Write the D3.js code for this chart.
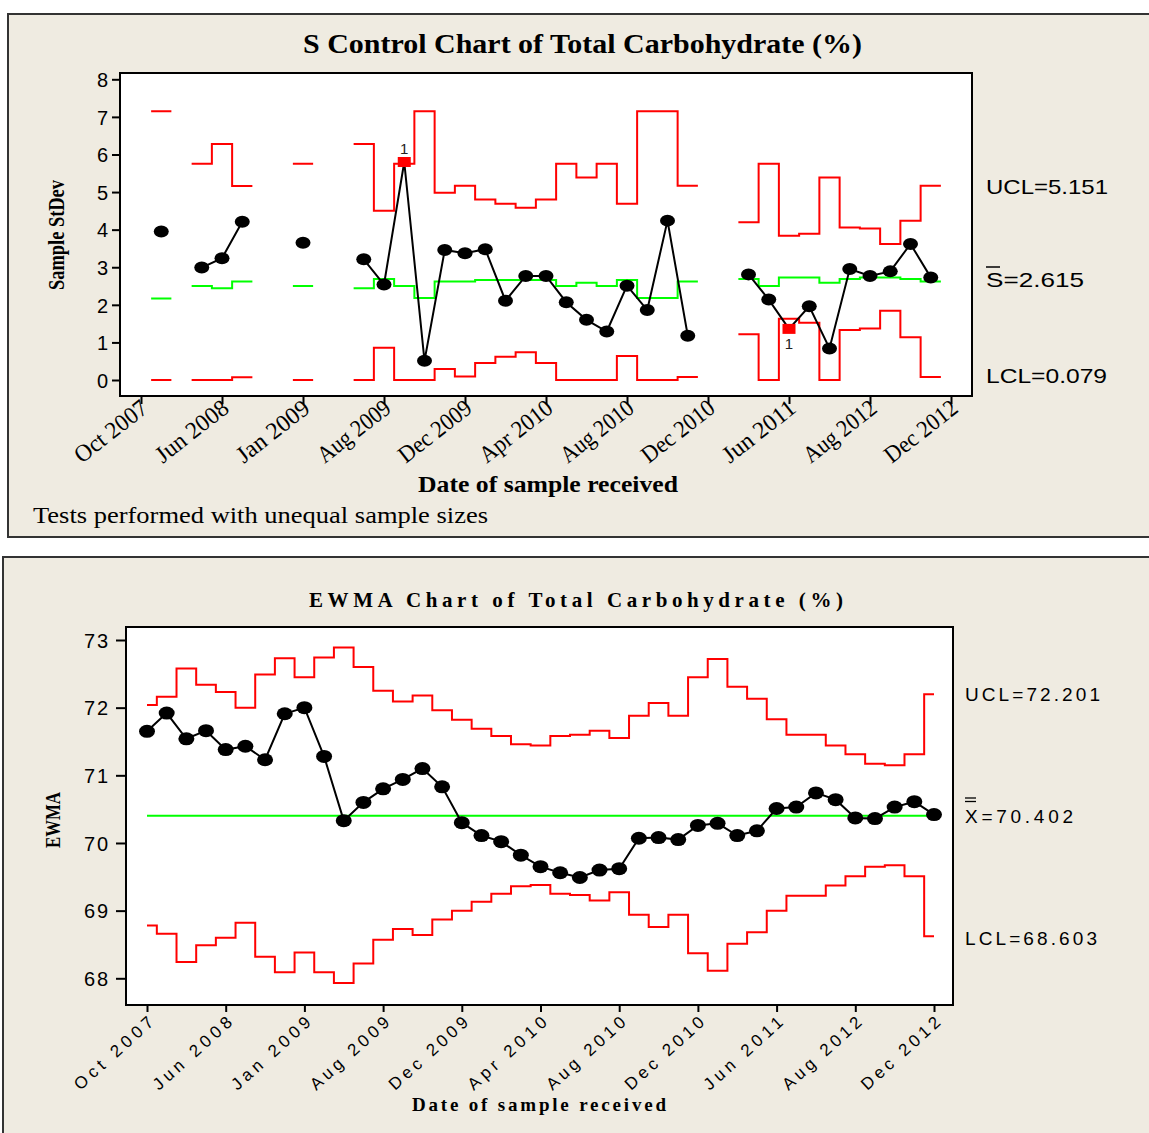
<!DOCTYPE html>
<html><head><meta charset="utf-8">
<script src="https://cdn.jsdelivr.net/npm/d3@7"></script>
<style>html,body{margin:0;padding:0;background:#fff;} svg{display:block;}</style>
</head><body>
<script>
// ---------- data ----------
const tickIndex = [0,4,8,12,16,20,24,28,32,36,40];
const tickLabels = ["Oct 2007","Jun 2008","Jan 2009","Aug 2009","Dec 2009","Apr 2010","Aug 2010","Dec 2010","Jun 2011","Aug 2012","Dec 2012"];

const sYTicks = [0,1,2,3,4,5,6,7,8];
const sValues = [null,3.95,null,2.99,3.24,4.21,null,null,3.65,null,null,3.21,2.54,5.80,0.51,3.46,3.37,3.48,2.11,2.77,2.77,2.07,1.60,1.29,2.51,1.86,4.24,1.18,null,null,2.81,2.14,1.36,1.96,0.84,2.95,2.77,2.89,3.62,2.73,null];
const sUCL = [null,7.15,null,5.75,6.28,5.16,null,null,5.75,null,null,6.28,4.50,5.75,7.15,4.98,5.17,4.80,4.69,4.58,4.80,5.75,5.39,5.75,4.69,7.15,7.15,5.17,null,null,4.20,5.75,3.84,3.89,5.39,4.06,4.03,3.62,4.24,5.17,null];
const sCL = [null,2.17,null,2.50,2.44,2.62,null,null,2.50,null,null,2.44,2.69,2.50,2.18,2.62,2.62,2.66,2.66,2.66,2.66,2.50,2.59,2.50,2.66,2.18,2.18,2.62,null,null,2.69,2.50,2.73,2.73,2.59,2.69,2.73,2.73,2.69,2.62,null];
const sLCL = [null,0,null,0,0,0.07,null,null,0,null,null,0,0.86,0,0,0.29,0.09,0.45,0.62,0.74,0.45,0,0,0,0.64,0,0,0.08,null,null,1.22,0,1.63,1.52,0,1.33,1.37,1.84,1.14,0.08,null];
const sFlagged = [13,32];
const sLimitText = ["UCL=5.151","=2.615","LCL=0.079"];

const eYTicks = [68,69,70,71,72,73];
const ewmaValues = [71.65,71.92,71.54,71.66,71.38,71.43,71.23,71.91,72.00,71.28,70.33,70.60,70.80,70.94,71.10,70.83,70.30,70.11,70.02,69.82,69.65,69.56,69.49,69.60,69.62,70.07,70.08,70.05,70.26,70.29,70.11,70.18,70.51,70.53,70.74,70.64,70.37,70.36,70.53,70.61,70.42];
const ewmaUCL = [72.04,72.16,72.58,72.34,72.23,72.00,72.49,72.73,72.45,72.74,72.89,72.60,72.25,72.09,72.18,71.96,71.82,71.69,71.58,71.46,71.44,71.58,71.60,71.66,71.55,71.88,72.07,71.88,72.45,72.72,72.31,72.13,71.83,71.60,71.60,71.44,71.31,71.17,71.15,71.31,72.20];
const ewmaLCL = [68.78,68.66,68.24,68.49,68.60,68.82,68.32,68.09,68.38,68.09,67.93,68.22,68.57,68.73,68.64,68.87,69.00,69.13,69.25,69.36,69.38,69.25,69.23,69.15,69.27,68.94,68.76,68.94,68.37,68.11,68.51,68.68,69.00,69.22,69.22,69.37,69.51,69.65,69.67,69.51,68.62];
const ewmaCenter = 70.402;
const eLimitText = ["UCL=72.201","=70.402","LCL=68.603"];

// ---------- drawing ----------
const SERIF = "'Liberation Serif','Times New Roman',serif";
const SANS = "'Liberation Sans',Arial,sans-serif";
const BG = "#EFEBE1";
const RED = "#FF0000", GREEN = "#00FF00";

const svg = d3.select("body").append("svg").attr("width",1149).attr("height",1133);

svg.append("rect").attr("x",8).attr("y",14).attr("width",1150).attr("height",523)
  .attr("fill",BG).attr("stroke","#333").attr("stroke-width",2);
svg.append("rect").attr("x",3).attr("y",557).attr("width",1160).attr("height",590)
  .attr("fill",BG).attr("stroke","#333").attr("stroke-width",2);

function txt(g, s, x, y, o) {
  const t = g.append("text").attr("x",x).attr("y",y).text(s)
    .attr("font-family",o.family).attr("font-size",o.size)
    .attr("font-weight",o.weight||"normal").attr("fill","#000")
    .attr("text-anchor",o.anchor||"start");
  if (o.len) t.attr("textLength",o.len).attr("lengthAdjust",o.adj||"spacingAndGlyphs");
  if (o.rotate) t.attr("transform",`rotate(${o.rotate},${x},${y})`);
  return t;
}

function stepPoints(vals, lo, hi) {
  const pts = [];
  vals.forEach((v,i) => {
    if (v == null) { pts.push(null); return; }
    pts.push([Math.max(i-0.5,lo), v], [Math.min(i+0.5,hi), v]);
  });
  return pts;
}

// ===== S chart =====
{
  const L=120, T=73, R=972, B=396;
  const x = d3.scaleLinear().domain([0,40]).range([141,951]);
  const y = d3.scaleLinear().domain([0,8]).range([380,79.3]);
  const g = svg.append("g");
  g.append("rect").attr("x",L).attr("y",T).attr("width",R-L).attr("height",B-T)
    .attr("fill","#fff").attr("stroke","#000").attr("stroke-width",2);

  const ya = g.append("g").attr("transform",`translate(${L},0)`)
    .call(d3.axisLeft(y).tickValues(sYTicks).tickFormat(d3.format("d")).tickSize(8).tickPadding(4));
  ya.select(".domain").remove();
  ya.selectAll("line").attr("stroke","#000").attr("stroke-width",2);
  ya.selectAll("text").attr("font-family",SANS).attr("font-size",20).attr("fill","#000").attr("dy","0.36em");

  const xa = g.append("g").attr("transform",`translate(0,${B})`)
    .call(d3.axisBottom(x).tickValues(tickIndex).tickFormat((d,i)=>tickLabels[i]).tickSize(8));
  xa.select(".domain").remove();
  xa.selectAll("line").attr("stroke","#000").attr("stroke-width",2);
  xa.selectAll("text").attr("x",0).attr("y",0).attr("dy",0)
    .attr("text-anchor","end").attr("transform","translate(8,15) rotate(-38)")
    .attr("font-family",SERIF).attr("font-size",24).attr("fill","#000")
    .attr("textLength",86).attr("lengthAdjust","spacingAndGlyphs");

  const line = d3.line().defined(d=>d!==null).x(d=>x(d[0])).y(d=>y(d[1]));
  [[sUCL,RED],[sLCL,RED],[sCL,GREEN]].forEach(([arr,c]) => {
    g.append("path").attr("d",line(stepPoints(arr,-Infinity,Infinity)))
      .attr("fill","none").attr("stroke",c).attr("stroke-width",2);
  });

  const data = sValues.map((v,i)=>({i,v}));
  g.append("path").attr("d", d3.line().defined(d=>d.v!=null).x(d=>x(d.i)).y(d=>y(d.v))(data))
    .attr("fill","none").attr("stroke","#000").attr("stroke-width",2);
  g.selectAll("ellipse.pt").data(data.filter(d=>d.v!=null && !sFlagged.includes(d.i)))
    .join("ellipse").attr("cx",d=>x(d.i)).attr("cy",d=>y(d.v)).attr("rx",7.5).attr("ry",6).attr("fill","#000");
  const fl = data.filter(d=>sFlagged.includes(d.i));
  g.selectAll("rect.fl").data(fl).join("rect")
    .attr("x",d=>x(d.i)-6.5).attr("y",d=>y(d.v)-5).attr("width",13).attr("height",10).attr("fill",RED);
  fl.forEach(d => {
    const above = d.v > sUCL[d.i];
    txt(g,"1",x(d.i),above ? y(d.v)-8 : y(d.v)+20,{family:SANS,size:15,anchor:"middle"}).attr("fill","#222");
  });

  // text
  txt(g,"S Control Chart of Total Carbohydrate (%)",303,53,{family:SERIF,size:27,weight:"bold",len:559});
  txt(g,"Sample StDev",64,290,{family:SERIF,size:23,weight:"bold",len:110,rotate:-90});
  txt(g,"Date of sample received",418,492,{family:SERIF,size:24,weight:"bold",len:260});
  txt(g,"Tests performed with unequal sample sizes",33,523,{family:SERIF,size:23,len:455});
  txt(g,sLimitText[0],986,194,{family:SANS,size:21,len:122});
  txt(g,"S"+sLimitText[1],986,287,{family:SANS,size:21,len:98});
  g.append("line").attr("x1",986).attr("x2",1000).attr("y1",267).attr("y2",267).attr("stroke","#000").attr("stroke-width",1.5);
  txt(g,sLimitText[2],986,383,{family:SANS,size:21,len:121});
}

// ===== EWMA chart =====
{
  const L=126, T=627, R=953, B=1005;
  const x = d3.scaleLinear().domain([0,40]).range([147,934]);
  const y = d3.scaleLinear().domain([68,73]).range([978.3,640]);
  const g = svg.append("g");
  g.append("rect").attr("x",L).attr("y",T).attr("width",R-L).attr("height",B-T)
    .attr("fill","#fff").attr("stroke","#000").attr("stroke-width",2);

  const ya = g.append("g").attr("transform",`translate(${L},0)`)
    .call(d3.axisLeft(y).tickValues(eYTicks).tickFormat(d3.format("d")).tickSize(10).tickPadding(8));
  ya.select(".domain").remove();
  ya.selectAll("line").attr("stroke","#000").attr("stroke-width",2);
  ya.selectAll("text").attr("font-family",SANS).attr("font-size",20).attr("fill","#000")
    .attr("dy","0.36em").attr("textLength",24).attr("lengthAdjust","spacing");

  const xa = g.append("g").attr("transform",`translate(0,${B})`)
    .call(d3.axisBottom(x).tickValues(tickIndex).tickFormat((d,i)=>tickLabels[i]).tickSize(7));
  xa.select(".domain").remove();
  xa.selectAll("line").attr("stroke","#000").attr("stroke-width",2);
  xa.selectAll("text").attr("x",0).attr("y",0).attr("dy",0)
    .attr("text-anchor","end").attr("transform","translate(7,19) rotate(-42)")
    .attr("font-family",SANS).attr("font-size",17).attr("fill","#000")
    .attr("textLength",100).attr("lengthAdjust","spacing");

  const line = d3.line().defined(d=>d!==null).x(d=>x(d[0])).y(d=>y(d[1]));
  [ewmaUCL,ewmaLCL].forEach(arr => {
    g.append("path").attr("d",line(stepPoints(arr,0,40)))
      .attr("fill","none").attr("stroke",RED).attr("stroke-width",2);
  });
  g.append("line").attr("x1",x(0)).attr("x2",x(40)).attr("y1",y(ewmaCenter)).attr("y2",y(ewmaCenter))
    .attr("stroke",GREEN).attr("stroke-width",2);

  const data = ewmaValues.map((v,i)=>({i,v}));
  g.append("path").attr("d", d3.line().x(d=>x(d.i)).y(d=>y(d.v))(data))
    .attr("fill","none").attr("stroke","#000").attr("stroke-width",2);
  g.selectAll("ellipse.pt").data(data).join("ellipse")
    .attr("cx",d=>x(d.i)).attr("cy",d=>y(d.v)).attr("rx",8).attr("ry",6.5).attr("fill","#000");

  txt(g,"EWMA Chart of Total Carbohydrate (%)",309,607,{family:SERIF,size:21,weight:"bold",len:534,adj:"spacing"});
  txt(g,"EWMA",60,848,{family:SERIF,size:20,weight:"bold",len:56,rotate:-90});
  txt(g,"Date of sample received",412,1111,{family:SERIF,size:19,weight:"bold",len:254,adj:"spacing"});
  txt(g,eLimitText[0],965,701,{family:SANS,size:19,len:135,adj:"spacing"});
  txt(g,"X"+eLimitText[1],965,823,{family:SANS,size:19,len:108,adj:"spacing"});
  g.append("line").attr("x1",965).attr("x2",976).attr("y1",798).attr("y2",798).attr("stroke","#000").attr("stroke-width",1.3);
  g.append("line").attr("x1",965).attr("x2",976).attr("y1",801.5).attr("y2",801.5).attr("stroke","#000").attr("stroke-width",1.3);
  txt(g,eLimitText[2],965,945,{family:SANS,size:19,len:132,adj:"spacing"});
}
</script>
</body></html>
